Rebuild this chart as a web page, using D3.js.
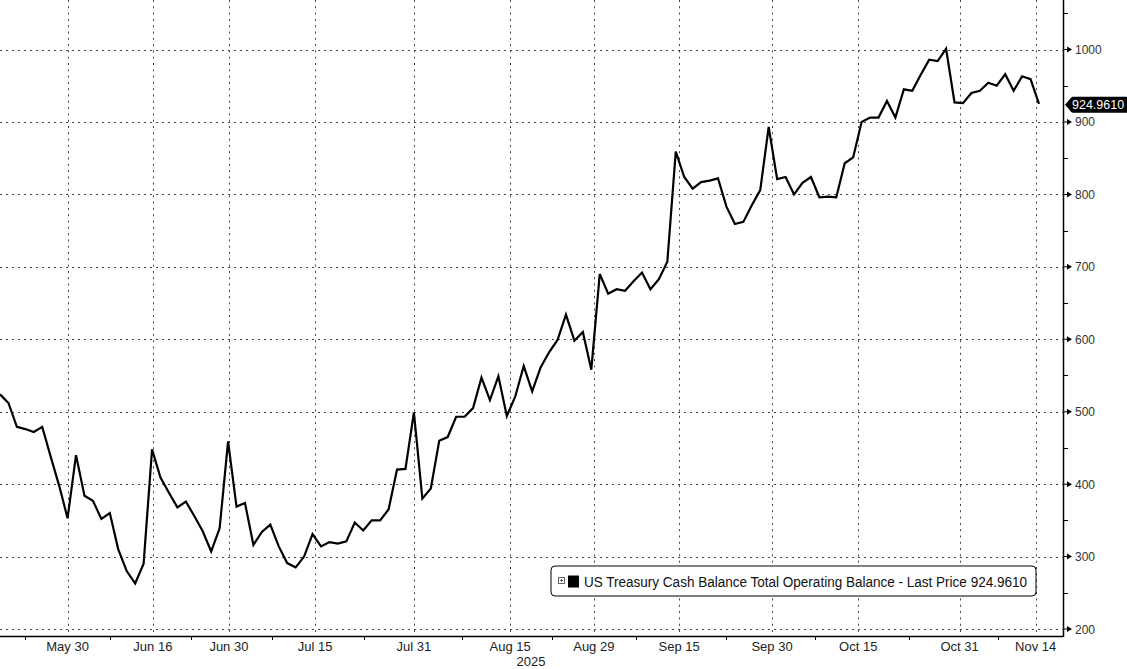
<!DOCTYPE html>
<html>
<head>
<meta charset="utf-8">
<script src="https://cdn.jsdelivr.net/npm/d3@7"></script>
<style>
  html, body { margin: 0; padding: 0; background: #fff; }
  svg { display: block; }
</style>
</head>
<body>
<svg id="chart" width="1127" height="669"></svg>
<script>
// ---- data (business-day series, USD bn) ----
const values = [
  524, 512, 479, 476, 472, 479, 438, 398, 353, 440,
  384, 377, 352, 360, 310, 280, 263, 290, 448, 409,
  388, 368, 376, 356, 335, 307, 339, 459, 369, 374,
  316, 334, 344, 314, 291, 285, 300, 331, 314, 320,
  318, 321, 347, 336, 350, 350, 365, 420, 421, 499,
  380, 394, 460, 465, 493, 493, 505, 547, 516, 549,
  494, 521, 563, 528, 561, 582, 599, 634, 598, 610,
  558, 690, 663, 669, 667, 680, 692, 669, 683, 707,
  859, 824, 808, 817, 819, 822, 783, 759, 762, 785,
  806, 893, 821, 824, 800, 816, 824, 796, 797, 796,
  843, 851, 900, 906, 906, 929, 906, 945, 943, 965,
  986, 984, 1001, 927, 926, 940, 943, 954, 950, 966,
  943, 963, 959, 924.961
];
const tickLabels = ["May 30","Jun 16","Jun 30","Jul 15","Jul 31","Aug 15","Aug 29","Sep 15","Sep 30","Oct 15","Oct 31","Nov 14"];
const tickPositions = [8, 18.1, 27.1, 37.3, 49, 60.4, 70.3, 80.4, 91.4, 101.6, 113.6, 122.6];
const yearLabel = "2025";
const yMajorTicks = [200, 300, 400, 500, 600, 700, 800, 900, 1000];
const yMinorTicks = [250, 350, 450, 550, 650, 750, 850, 950, 1050];
const lastPriceText = "924.9610";
const legendText = "US Treasury Cash Balance Total Operating Balance - Last Price 924.9610";

// ---- layout ----
const W = 1127, H = 669;
const plotRight = 1063, plotBottom = 636;
const svg = d3.select("#chart");

const x = d3.scaleLinear().domain([0, values.length - 1]).range([0, 1039]);
const y = d3.scaleLinear().domain([200, 1000]).range([629, 49.5]);

const gridColor = "#444";
const font = "'Liberation Sans', Arial, sans-serif";

// horizontal grid
svg.append("g").selectAll("line").data(yMajorTicks).join("line")
  .attr("x1", 0).attr("x2", plotRight)
  .attr("y1", d => Math.round(y(d)) + 0.5).attr("y2", d => Math.round(y(d)) + 0.5)
  .attr("stroke", gridColor).attr("stroke-width", 1)
  .attr("stroke-dasharray", "2,4");

// vertical grid
svg.append("g").selectAll("line").data(tickPositions).join("line")
  .attr("x1", d => Math.round(x(d)) + 0.5).attr("x2", d => Math.round(x(d)) + 0.5)
  .attr("y1", 0).attr("y2", plotBottom)
  .attr("stroke", gridColor).attr("stroke-width", 1)
  .attr("stroke-dasharray", "2,4.3");

// series line
const line = d3.line().x((d, i) => x(i)).y(d => y(d)).curve(d3.curveLinear);
svg.append("path").datum(values)
  .attr("d", line)
  .attr("fill", "none").attr("stroke", "#000").attr("stroke-width", 2.2)
  .attr("stroke-linejoin", "miter");

// bottom axis line
svg.append("line").attr("x1", 0).attr("x2", plotRight)
  .attr("y1", plotBottom + 0.5).attr("y2", plotBottom + 0.5)
  .attr("stroke", "#000").attr("stroke-width", 1.5);

// bottom minor ticks (between labels)
const midTicks = tickPositions.map((p, i) => {
  if (i === 0) return p - (tickPositions[1] - p) / 2;
  return (tickPositions[i - 1] + p) / 2;
});
svg.append("g").selectAll("line").data(midTicks).join("line")
  .attr("x1", d => Math.round(x(d)) + 0.5).attr("x2", d => Math.round(x(d)) + 0.5)
  .attr("y1", plotBottom).attr("y2", plotBottom + 4)
  .attr("stroke", "#000").attr("stroke-width", 1);

// bottom labels
svg.append("g").selectAll("text").data(tickLabels).join("text")
  .attr("x", (d, i) => x(tickPositions[i]))
  .attr("y", 651)
  .attr("text-anchor", "middle")
  .attr("font-family", font).attr("font-size", 13)
  .attr("fill", "#222")
  .text(d => d);
svg.append("text").attr("x", 531).attr("y", 666)
  .attr("text-anchor", "middle").attr("font-family", font).attr("font-size", 13)
  .attr("fill", "#222").text(yearLabel);

// right axis line
svg.append("line").attr("x1", plotRight + 0.5).attr("x2", plotRight + 0.5)
  .attr("y1", 0).attr("y2", plotBottom + 1)
  .attr("stroke", "#000").attr("stroke-width", 1.5);

// right axis major ticks (small arrows)
svg.append("g").selectAll("path").data(yMajorTicks).join("path")
  .attr("d", d => {
    const yy = y(d);
    return `M${plotRight},${yy - 0.5}L${plotRight + 4},${yy - 0.5}L${plotRight + 4},${yy - 3}L${plotRight + 9},${yy}L${plotRight + 4},${yy + 3}L${plotRight + 4},${yy + 0.5}L${plotRight},${yy + 0.5}Z`;
  })
  .attr("fill", "#000");

// right axis minor ticks
svg.append("g").selectAll("line").data(yMinorTicks).join("line")
  .attr("x1", plotRight).attr("x2", plotRight + 5)
  .attr("y1", d => Math.round(y(d)) + 0.5).attr("y2", d => Math.round(y(d)) + 0.5)
  .attr("stroke", "#000").attr("stroke-width", 1);

// right axis labels
svg.append("g").selectAll("text").data(yMajorTicks).join("text")
  .attr("x", plotRight + 12)
  .attr("y", d => y(d) + 4.5)
  .attr("font-family", font).attr("font-size", 12)
  .attr("fill", "#333")
  .text(d => d);

// last price tag
const lastV = values[values.length - 1];
const ty = y(lastV) + 1;
const tag = d3.path();
tag.moveTo(plotRight + 2, ty);
tag.lineTo(plotRight + 8, ty - 7);
tag.quadraticCurveTo(plotRight + 9, ty - 8, plotRight + 10, ty - 8);
tag.lineTo(W, ty - 8);
tag.lineTo(W, ty + 8);
tag.lineTo(plotRight + 10, ty + 8);
tag.quadraticCurveTo(plotRight + 9, ty + 8, plotRight + 8, ty + 7);
tag.closePath();
svg.append("path").attr("d", tag.toString()).attr("fill", "#000");
svg.append("text").attr("x", plotRight + 9).attr("y", ty + 4.5)
  .attr("font-family", font).attr("font-size", 12.5)
  .attr("fill", "#fff").text(lastPriceText);

// legend
const lg = svg.append("g");
lg.append("rect").attr("x", 551).attr("y", 566).attr("width", 485).attr("height", 30)
  .attr("rx", 4).attr("ry", 4)
  .attr("fill", "#fff").attr("stroke", "#000").attr("stroke-width", 1);
lg.append("rect").attr("x", 558.5).attr("y", 577.5).attr("width", 6).attr("height", 6)
  .attr("fill", "none").attr("stroke", "#666").attr("stroke-width", 1);
lg.append("path").attr("d", "M560,580.5H563M561.5,579V582")
  .attr("stroke", "#666").attr("stroke-width", 1);
lg.append("rect").attr("x", 568).attr("y", 575.5).attr("width", 11).attr("height", 12)
  .attr("fill", "#000");
lg.append("text").attr("x", 584).attr("y", 587)
  .attr("font-family", font).attr("font-size", 14)
  .attr("fill", "#111")
  .attr("textLength", 443).attr("lengthAdjust", "spacingAndGlyphs")
  .text(legendText);
</script>
</body>
</html>
